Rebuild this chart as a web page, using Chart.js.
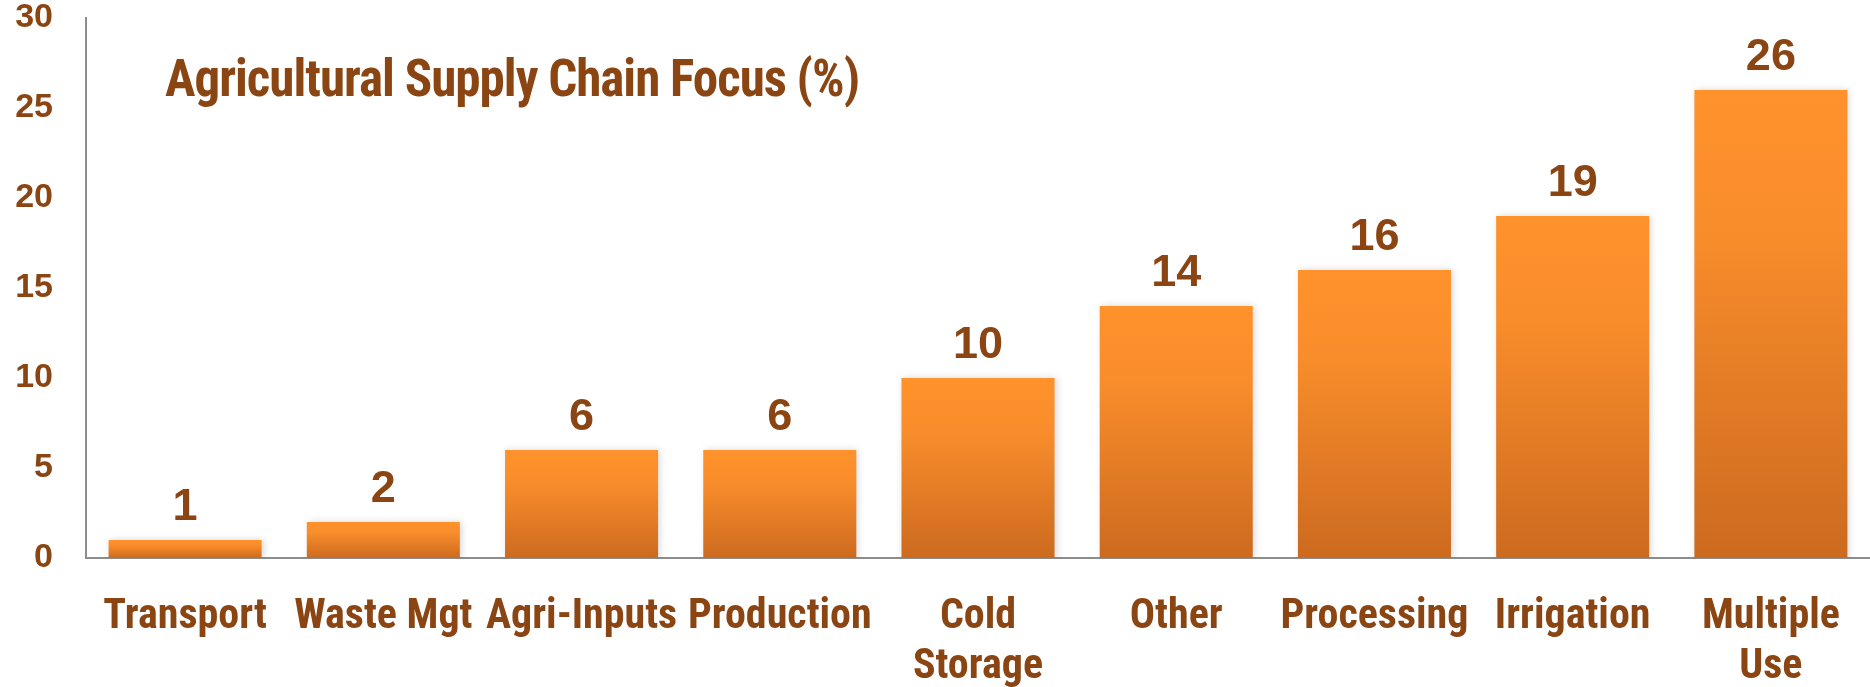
<!DOCTYPE html>
<html>
<head>
<meta charset="utf-8">
<script src="https://cdn.jsdelivr.net/npm/chart.js@4.4.1/dist/chart.umd.min.js"></script>
<style>
  html, body { margin: 0; padding: 0; background: #fff; }
  #wrap { width: 1870px; height: 687px; }
</style>
</head>
<body>
<div id="wrap"><canvas id="c" width="1870" height="687"></canvas></div>
<script>
const categories = ['Transport', 'Waste Mgt', 'Agri-Inputs', 'Production', ['Cold', 'Storage'], 'Other', 'Processing', 'Irrigation', ['Multiple', 'Use']];
const focusPct = [1, 2, 6, 6, 10, 14, 16, 19, 26];
const yTicks = [0, 5, 10, 15, 20, 25, 30];
const chartTitle = 'Agricultural Supply Chain Focus (%)';

const BROWN = '#8B4513';
const NARROW = '"Roboto Condensed", "Open Sans Condensed", sans-serif';
const WIDE = '"Liberation Sans", Arial, sans-serif';

// each bar gets its own top-to-bottom gradient
function barFill(c) {
  const chart = c.chart;
  if (!chart.chartArea || c.type !== 'data') return '#F6892A';
  const y = chart.scales.y;
  const g = chart.ctx.createLinearGradient(0, y.getPixelForValue(c.parsed.y), 0, y.getPixelForValue(0));
  g.addColorStop(0, '#FF922B');
  g.addColorStop(0.3, '#F98D2B');
  g.addColorStop(1, '#CC6A1F');
  return g;
}

// soft shadow under bars, value labels and the title
const barLook = {
  id: 'barLook',
  beforeDatasetsDraw(chart) {
    const ctx = chart.ctx;
    ctx.save();
    ctx.shadowColor = 'rgba(0,0,0,0.16)';
    ctx.shadowBlur = 7;
    ctx.shadowOffsetX = 2;
    ctx.shadowOffsetY = 0;
  },
  afterDatasetsDraw(chart) {
    chart.ctx.restore();
  },
  afterDraw(chart) {
    const ctx = chart.ctx;
    ctx.save();
    ctx.fillStyle = BROWN;
    ctx.textAlign = 'center';
    ctx.textBaseline = 'alphabetic';
    ctx.font = 'bold 45px ' + WIDE;
    chart.getDatasetMeta(0).data.forEach((bar, i) => {
      ctx.fillText(String(focusPct[i]), bar.x, bar.y - 20);
    });
    ctx.textAlign = 'left';
    ctx.font = 'bold 51px ' + NARROW;
    ctx.letterSpacing = '-1px';
    ctx.fillText(chartTitle, 165, 96);
    ctx.restore();
  }
};

new Chart(document.getElementById('c'), {
  type: 'bar',
  data: {
    labels: categories,
    datasets: [{ data: focusPct, backgroundColor: barFill, borderWidth: 0, categoryPercentage: 1, barPercentage: 0.772 }]
  },
  options: {
    responsive: false,
    animation: false,
    layout: { padding: 0 },
    plugins: { legend: { display: false }, tooltip: { enabled: false } },
    scales: {
      x: {
        afterFit: s => { s.height = 129; s.paddingLeft = 0; s.paddingRight = 0; },
        grid: { display: false, drawTicks: false },
        border: { display: true, color: '#8c8c8c', width: 2 },
        ticks: { color: BROWN, font: { family: NARROW, size: 42, weight: 'bold', lineHeight: 1.2 }, padding: 34, maxRotation: 0, autoSkip: false }
      },
      y: {
        min: 0, max: 30,
        afterBuildTicks: s => { s.ticks = yTicks.map(v => ({ value: v })); },
        afterFit: s => { s.width = 86; s.paddingTop = 18; s.paddingBottom = 18; },
        grid: { display: false, drawTicks: false },
        border: { display: true, color: '#8c8c8c', width: 2 },
        ticks: { color: BROWN, font: { family: WIDE, size: 34, weight: 'bold', lineHeight: 1 }, padding: 33 }
      }
    }
  },
  plugins: [barLook]
});
</script>
</body>
</html>
